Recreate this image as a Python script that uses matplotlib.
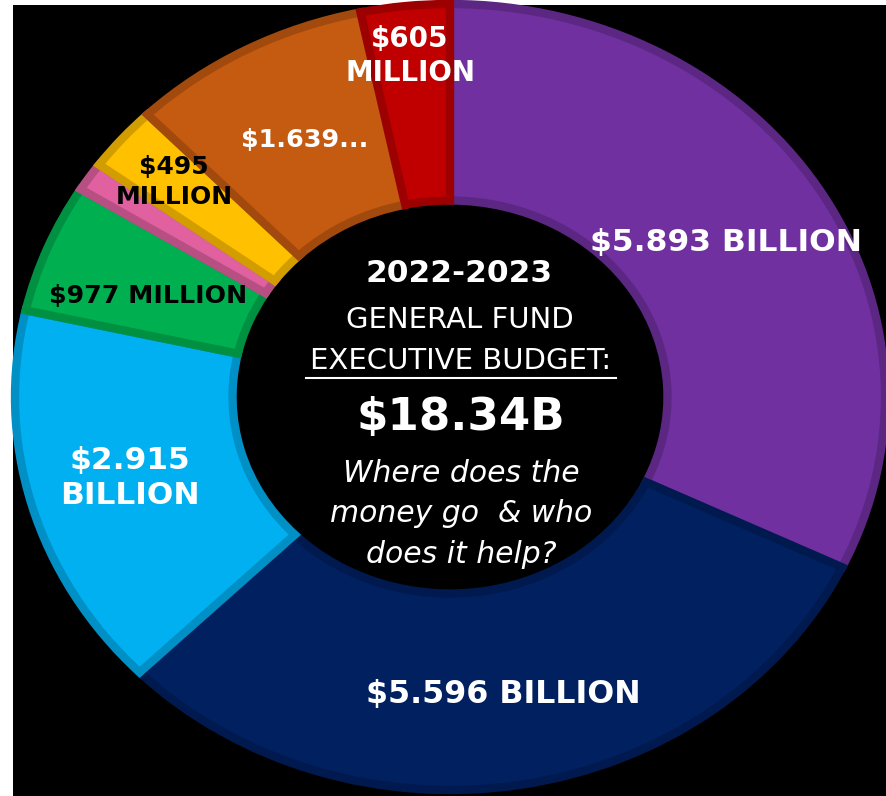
import matplotlib.pyplot as plt
from matplotlib.patches import Rectangle
import matplotlib.colors as mcolors

# slices clockwise from 12 o'clock, in billions
values = [5.893, 5.596, 2.915, 0.977, 0.22, 0.495, 1.639, 0.605]
colors = ['#7030A0', '#002060', '#00B0F0', '#00B050', '#E060A0', '#FFC000', '#C55A11', '#C00000']
labels = ['$5.893 BILLION', '$5.596 BILLION', '$2.915\nBILLION', '$977 MILLION', '',
          '$495\nMILLION', '$1.639...', '$605\nMILLION']
label_colors = ['white', 'white', 'white', 'black', 'black', 'black', 'white', 'white']
label_sizes = [22.6, 22.8, 22.5, 18.2, 0, 18, 18.3, 20]
label_pos = [(726, 243), (503, 695), (130, 478), (148, 296), (0, 0), (174, 182), (305, 140), (410, 56)]

W, H = 886, 796
cx, cy = 450, 397
rx, ry = 435, 393


def darker(c, f=0.82):
    r, g, b = mcolors.to_rgb(c)
    return (r * f, g * f, b * f)


fig = plt.figure(figsize=(W / 100, H / 100), dpi=100, facecolor='white')
fig.patches.append(Rectangle((13 / W, 0), 1 - 13 / W, 1 - 5 / H, transform=fig.transFigure,
                             facecolor='black', edgecolor='none', zorder=0))

ax = fig.add_axes([0, 0, 1, 1], zorder=2)
ax.set_facecolor('none')

wedges, _ = ax.pie(values, colors=colors, startangle=90, counterclock=False, radius=1,
                   wedgeprops=dict(width=0.5, linewidth=6, edgecolor='none'))
for w, c in zip(wedges, colors):
    w.set_edgecolor(darker(c))

ax.set_aspect('auto')
ax.set_xlim(-cx / rx, (W - cx) / rx)
ax.set_ylim(-(H - cy) / ry, cy / ry)
ax.axis('off')


def px(x, y):
    return x / W, 1 - y / H


font = 'DejaVu Sans'
for lab, col, size, (x, y) in zip(labels, label_colors, label_sizes, label_pos):
    if not lab:
        continue
    ax.text(*px(x, y), lab, transform=fig.transFigure, ha='center', va='center',
            color=col, fontsize=size, fontweight='bold', family=font,
            linespacing=1.27)

# centre text
ax.text(*px(459, 273), '2022-2023', transform=fig.transFigure, ha='center', va='center',
        color='white', fontsize=22.5, fontweight='bold', family=font)
ax.text(*px(460, 320), 'GENERAL FUND', transform=fig.transFigure, ha='center', va='center',
        color='white', fontsize=21, family=font)
ax.text(*px(461, 361), 'EXECUTIVE BUDGET:', transform=fig.transFigure, ha='center',
        va='center', color='white', fontsize=21, family=font)
ax.add_artist(plt.Line2D([306 / W, 616 / W], [1 - 378 / H, 1 - 378 / H],
                         transform=fig.transFigure, color='white', lw=1.5))
ax.text(*px(461, 418), '$18.34B', transform=fig.transFigure, ha='center', va='center',
        color='white', fontsize=32.5, fontweight='bold', family=font)
ax.text(*px(461, 514), 'Where does the\nmoney go  & who\ndoes it help?',
        transform=fig.transFigure, ha='center', va='center', color='white', fontsize=21.5,
        style='italic', family=font, linespacing=1.5)

fig.savefig('out.png', dpi=100, facecolor='white')
